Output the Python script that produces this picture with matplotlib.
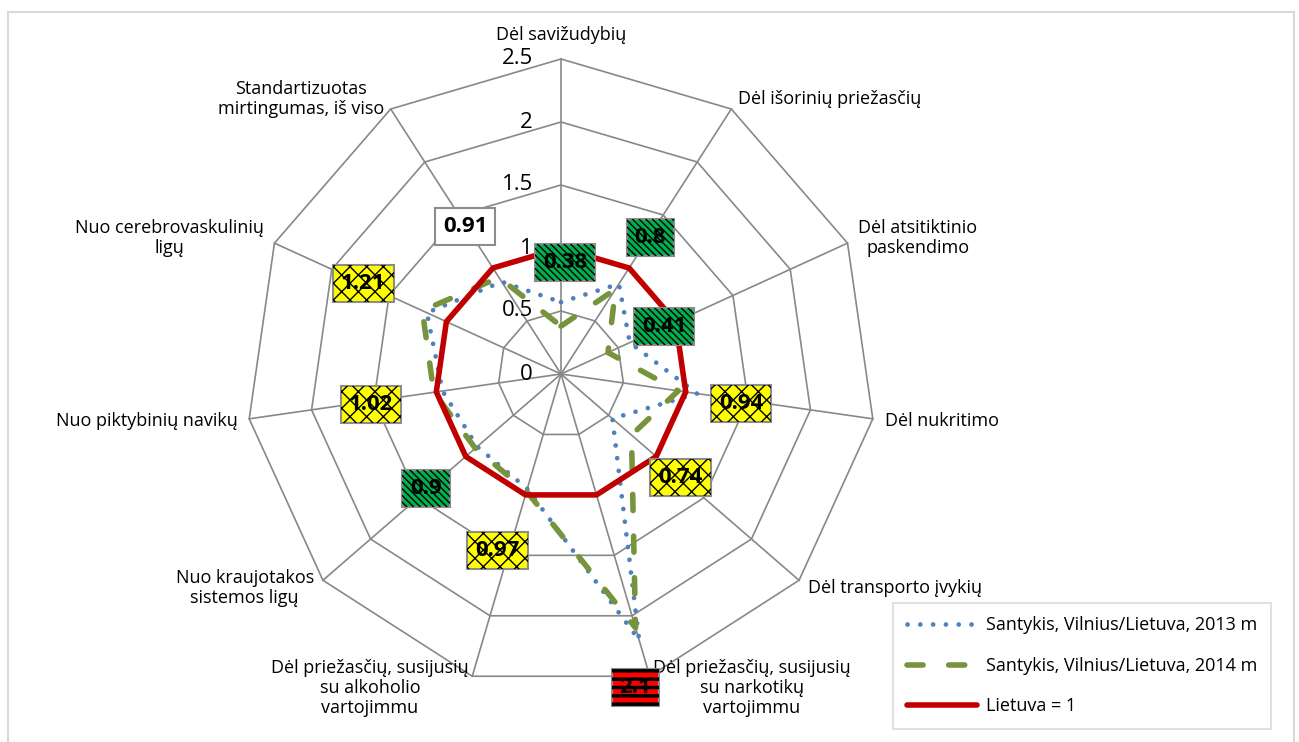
import numpy as np
import matplotlib.pyplot as plt
from matplotlib.patches import Rectangle

plt.rcParams['font.family'] = ['Open Sans', 'DejaVu Sans']

# Mirtingumo santykis Vilnius / Lietuva pagal priežastis
categories = [
    "Dėl savižudybių",
    "Dėl išorinių priežasčių",
    "Dėl atsitiktinio\npaskendimo",
    "Dėl nukritimo",
    "Dėl transporto įvykių",
    "Dėl priežasčių, susijusių\nsu narkotikų\nvartojimmu",
    "Dėl priežasčių, susijusių\nsu alkoholio\nvartojimmu",
    "Nuo kraujotakos\nsistemos ligų",
    "Nuo piktybinių navikų",
    "Nuo cerebrovaskulinių\nligų",
    "Standartizuotas\nmirtingumas, iš viso",
]
ratio_2013 = [0.57, 0.85, 0.60, 1.09, 0.54, 2.20, 0.95, 0.88, 0.95, 1.17, 0.87]
ratio_2014 = [0.38, 0.80, 0.41, 0.94, 0.74, 2.10, 0.97, 0.90, 1.02, 1.21, 0.91]
lietuva = [1, 1, 1, 1, 1, 1, 1, 1, 1, 1, 1]
# 2014 m. reikšmės palyginimas su Lietuva
label_class = ['low', 'low', 'low', 'same', 'same', 'high',
               'same', 'low', 'same', 'same', 'none']
r_ticks = [0, 0.5, 1, 1.5, 2, 2.5]
series_names = ["Santykis, Vilnius/Lietuva, 2013 m",
                "Santykis, Vilnius/Lietuva, 2014 m",
                "Lietuva = 1"]

# žymų poslinkis nuo taško, pikseliais
label_offsets = [(4, 64), (35, 52), (56, 26), (63, -13), (49, -42), (0, -60),
                 (-29, -59), (-49, -40), (-63, -12), (-59, 27), (-34, 51)]

box_styles = {
    'low': ('#00B050', '\\' * 5, 1.0),
    'same': ('#FFFF00', 'xx', 1.0),
    'high': ('#FF0000', '--', 2.5),
    'none': ('white', None, 1.0),
}

n = len(categories)
theta = np.arange(n) * 2 * np.pi / n
theta_c = np.append(theta, theta[0])

def closed(vals):
    return list(vals) + [vals[0]]

fig = plt.figure(figsize=(12.99, 7.42), dpi=100)
cx, cy, R = 561 / 1299, 1 - 374 / 742, 315
ax = fig.add_axes([cx - R / 1299, cy - R / 742, 2 * R / 1299, 2 * R / 742],
                  projection='polar')
ax.set_theta_zero_location('N')
ax.set_theta_direction(-1)
ax.set_ylim(0, r_ticks[-1])
ax.set_axis_off()

grid = '#888888'
for r in r_ticks[1:]:
    ax.plot(theta_c, [r] * (n + 1), color=grid, lw=1.2, zorder=1, clip_on=False)
for t in theta:
    ax.plot([t, t], [0, r_ticks[-1]], color=grid, lw=1.2, zorder=1, clip_on=False)

for r in r_ticks:
    ax.annotate(f"{r:g}", xy=(0, r), xytext=(-28, 0), textcoords='offset pixels',
                ha='right', va='center', fontsize=16, color='black',
                annotation_clip=False)

l13, = ax.plot(theta_c, closed(ratio_2013), color='#4F81BD', lw=3.4,
               dashes=(0.01, 2.7), dash_capstyle='round', zorder=3, clip_on=False)
l14, = ax.plot(theta_c, closed(ratio_2014), color='#77933C', lw=4,
               dashes=(2.9, 4.6), dash_capstyle='round', zorder=3, clip_on=False)
llt, = ax.plot(theta_c, closed(lietuva), color='#C00000', lw=4,
               solid_capstyle='round', zorder=4, clip_on=False)

# kategorijų pavadinimai už išorinio daugiakampio
for t, name in zip(theta, categories):
    s, c = np.sin(t), np.cos(t)
    if abs(s) < 0.1:
        ha, va, d = 'center', 'bottom', 15
    else:
        ha, va, d = ('left' if s > 0 else 'right'), 'center', 12
    ax.annotate(name, xy=(t, r_ticks[-1]), xytext=(d * s, d * c),
                textcoords='offset pixels', ha=ha, va=va, fontsize=13,
                multialignment='center', linespacing=1.15,
                annotation_clip=False)

# 2014 m. reikšmių žymos
for t, v, cls, off in zip(theta, ratio_2014, label_class, label_offsets):
    face, hatch, hlw = box_styles[cls]
    kw = dict(xy=(t, v), xytext=off, textcoords='offset pixels',
              ha='center', va='center', fontsize=16, fontweight='bold',
              annotation_clip=False)
    ax.annotate(f"{v:g}", color='black' if hatch is None else (0, 0, 0, 0),
                bbox=dict(boxstyle='square,pad=0.36', fc=face, ec='#8C8C8C', lw=1.5),
                zorder=6, **kw)
    if hatch is not None:
        with plt.rc_context({'hatch.linewidth': hlw}):
            ax.annotate(f"{v:g}", color='black',
                        bbox=dict(boxstyle='square,pad=0.36', fc='none', ec='black',
                                  lw=0, hatch=hatch),
                        zorder=7, **kw)

leg = fig.legend([l13, l14, llt], series_names, loc='lower right',
                 bbox_to_anchor=(1271 / 1299, 1 - 729 / 742), borderaxespad=0,
                 frameon=True, fancybox=False, edgecolor='#D9D9D9', fontsize=13,
                 handlelength=3.9, labelspacing=1.25, borderpad=0.75,
                 handletextpad=0.5)
leg.get_frame().set_linewidth(1.5)

fig.add_artist(Rectangle((8 / 1299, -0.05), (1294 - 8) / 1299, 1.05 - 12 / 742,
                         transform=fig.transFigure, fill=False,
                         ec='#D9D9D9', lw=1.5))

fig.savefig('out.png', dpi=100)
